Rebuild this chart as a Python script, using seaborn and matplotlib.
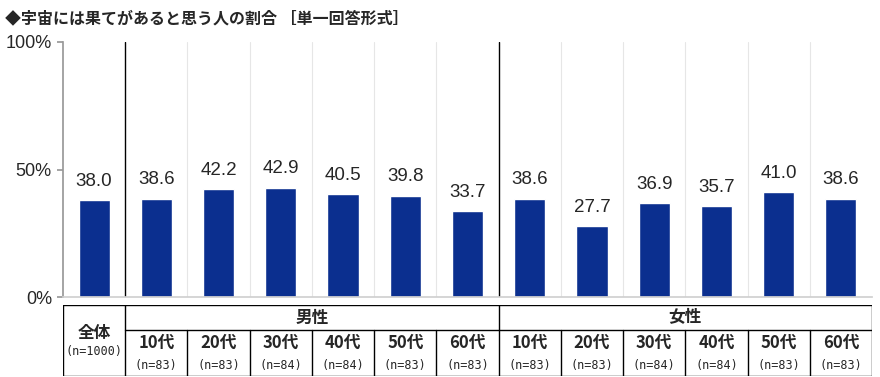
import matplotlib
matplotlib.use("Agg")
import matplotlib.pyplot as plt
import seaborn as sns
import pandas as pd

# --- data ---
groups = ["全体", "男性10代", "男性20代", "男性30代", "男性40代", "男性50代", "男性60代",
          "女性10代", "女性20代", "女性30代", "女性40代", "女性50代", "女性60代"]
values = [38.0, 38.6, 42.2, 42.9, 40.5, 39.8, 33.7, 38.6, 27.7, 36.9, 35.7, 41.0, 38.6]
age_labels = ["10代", "20代", "30代", "40代", "50代", "60代"]
n_labels = ["(n=1000)", "(n=83)", "(n=83)", "(n=84)", "(n=84)", "(n=83)", "(n=83)",
            "(n=83)", "(n=83)", "(n=84)", "(n=84)", "(n=83)", "(n=83)"]
sex_labels = ["男性", "女性"]
yticks = [0, 50, 100]

sns.set_theme(style="white")
plt.rcParams["font.family"] = ["Noto Sans CJK JP", "DejaVu Sans"]

df = pd.DataFrame({"group": groups, "value": values})
BLUE = "#0b2f8f"
arial = ["Liberation Sans", "DejaVu Sans"]

fig = plt.figure(figsize=(8.8, 3.77), dpi=100)
ax = fig.add_axes([63 / 880, 1 - 297 / 377, (872 - 63) / 880, (297 - 42) / 377])
sns.barplot(data=df, x="group", y="value", color=BLUE, width=0.5, saturation=1, ax=ax)

ax.set_xlim(-0.5, len(groups) - 0.5)
ax.set_ylim(0, 100)
ax.set_yticks(yticks)
ax.set_yticklabels([f"{t}%" for t in yticks], fontsize=13, family=arial)
ax.tick_params(axis="y", left=True, length=4, color="#999999", pad=4)
ax.set_xticks([])
ax.set_xlabel("")
ax.set_ylabel("")
for s in ["top", "right"]:
    ax.spines[s].set_visible(False)
ax.spines["left"].set_color("#999999")
ax.spines["bottom"].set_color("#d0d0d0")

# separators between categories
for i in range(1, len(groups)):
    if i in (1, 7):
        ax.axvline(i - 0.5, color="black", lw=1)
    else:
        ax.axvline(i - 0.5, color="#e6e6e6", lw=0.8)

for i, v in enumerate(values):
    ax.text(i, v + 4, f"{v:.1f}", ha="center", va="bottom", fontsize=13.5, family=arial)

fig.text(5 / 880, 1 - 18 / 377, "◆宇宙には果てがあると思う人の割合 ［単一回答形式］",
         fontsize=11.5, fontweight="bold", va="center", ha="left")

# --- table below ---
tx = fig.add_axes([63 / 880, 1 - 376 / 377, (872 - 63) / 880, (376 - 305) / 377])
tx.set_xlim(-0.5, len(groups) - 0.5)
tx.set_ylim(0, 2.84)
tx.axis("off")
lw = 1
top, mid, bot = 2.84, 1.84, 0.0
tx.plot([-0.5, 12.5], [top, top], color="black", lw=lw)
tx.plot([-0.5, 12.5], [bot, bot], color="black", lw=lw)
tx.plot([0.5, 12.5], [mid, mid], color="black", lw=lw)
for x in [-0.5, 0.5, 6.5, 12.5]:
    tx.plot([x, x], [bot, top], color="black", lw=lw)
for i in range(1, 13):
    if i not in (1, 7):
        tx.plot([i - 0.5, i - 0.5], [bot, mid], color="black", lw=lw)

mono = ["DejaVu Sans Mono"]
tx.text(0, 1.72, "全体", ha="center", va="center", fontsize=12, fontweight="bold")
tx.text(0, 0.96, n_labels[0], ha="center", va="center", fontsize=8.5, family=mono)
tx.text(3.5, 2.34, sex_labels[0], ha="center", va="center", fontsize=12, fontweight="bold")
tx.text(9.5, 2.34, sex_labels[1], ha="center", va="center", fontsize=12, fontweight="bold")
for i in range(1, 13):
    tx.text(i, 1.32, age_labels[(i - 1) % 6], ha="center", va="center", fontsize=12, fontweight="bold")
    tx.text(i, 0.4, n_labels[i], ha="center", va="center", fontsize=8.5, family=mono)

fig.savefig("out.png", dpi=100)
